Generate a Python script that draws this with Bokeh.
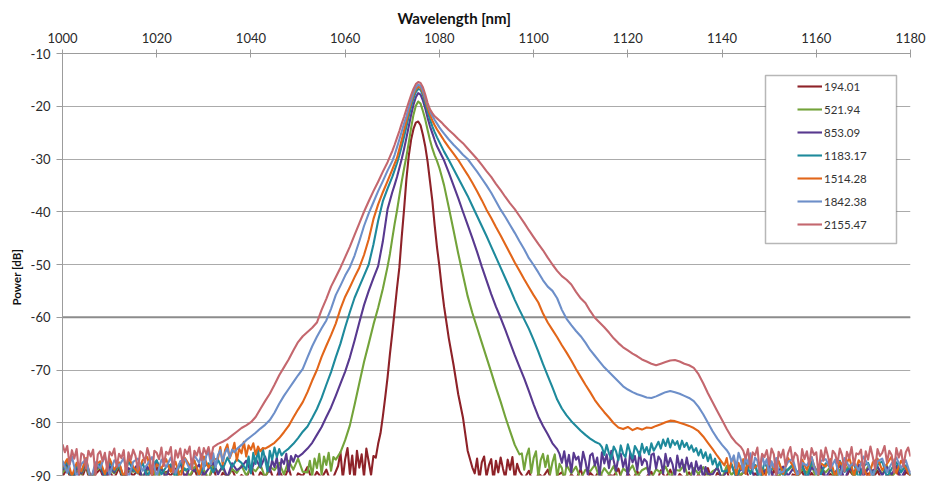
from bokeh.plotting import figure
from bokeh.models import Range1d, FixedTicker, Legend, LegendItem, BoxAnnotation, Span, Title
from bokeh.embed import file_html
from bokeh.resources import INLINE

# ---------------- axes / labels ----------------
X_TICKS = [1000, 1020, 1040, 1060, 1080, 1100, 1120, 1140, 1160, 1180]
X_TICK_LABELS = ["1000", "1020", "1040", "1060", "1080", "1100", "1120", "1140", "1160", "1180"]
Y_TICKS = [-90, -80, -70, -60, -50, -40, -30, -20, -10]
Y_TICK_LABELS = ["-90", "-80", "-70", "-60", "-50", "-40", "-30", "-20", "-10"]
X_TITLE = "Wavelength [nm]"
Y_TITLE = "Power [dB]"

SERIES_LABELS = ["194.01", "521.94", "853.09", "1183.17", "1514.28", "1842.38", "2155.47"]
SERIES_COLORS = ["#8E2228", "#73A33A", "#58398F", "#1E8A9C", "#E2661A", "#6D8FC9", "#C4676E"]

# ---------------- data (dB) ----------------
# *_coarse: noise floor every 1 nm (left list starts at 1000, right list ends at 1180)
# *_fine:   noise floor every 0.5 nm, just before / just after the shaped part
# *_shape:  (wavelength, dB) pairs of the emission band

# 194.01
red_left_coarse = [
    -90.2, -88.6, -91.5, -89.1, -90.8, -88.3, -91.9, -89.7, -88.8, -91.2,
    -89.4, -90.5, -88.5, -91.7, -89.0, -90.1, -88.9, -91.4, -89.6, -90.7,
    -88.4, -91.1, -89.3, -90.0, -88.7, -91.8, -89.8, -90.4, -88.6, -91.3,
    -89.2, -90.9, -88.3, -91.6, -89.5, -90.2, -88.8, -91.0, -89.9, -90.6,
    -88.2, -91.5, -89.4, -90.3, -88.7, -91.2, -89.1, -90.8, -88.5, -91.7,
    -89.6, -90.1, -88.4, -91.0, -89.3, -90.5, -88.9, -91.4]
red_left_fine = [
    -88.2, -85.6, -90.6, -86.9, -84.8, -89.7, -86.2, -91.0, -85.3, -88.5,
    -86.0, -90.3, -84.9, -87.4, -89.9, -86.3]
red_shape = [
    (1066.5, -86.6), (1067, -84.0), (1067.5, -82.0), (1068, -78.8), (1068.5, -75.2),
    (1069, -71.4), (1069.5, -67.0), (1070, -63.0), (1070.5, -58.8), (1071, -54.5),
    (1071.5, -50.6), (1072, -44.8), (1072.5, -39.6), (1073, -33.8), (1073.5, -29.4),
    (1074, -26.3), (1074.5, -24.3), (1075, -23.1), (1075.5, -22.9), (1076, -23.6),
    (1076.5, -25.4), (1077, -27.6), (1077.5, -30.5), (1078, -34.2), (1078.5, -37.9),
    (1079, -42.6), (1079.5, -46.8), (1080, -50.3), (1080.5, -54.4), (1081, -58.0),
    (1082, -64.0), (1083, -69.0), (1084, -74.6), (1085, -79.0), (1086, -85.3),
    (1087, -88.5)]
red_right_fine = [
    -89.6, -86.8, -90.8, -87.5, -86.4, -90.2, -88.1, -86.9, -91.0, -87.2,
    -89.4, -86.6, -88.7, -90.5, -87.0, -88.9, -86.5, -90.7, -87.8, -89.2]
red_right_coarse = [
    -90.6, -89.1, -91.8, -89.7, -90.3, -88.9, -91.5, -90.0, -89.4, -91.2,
    -89.8, -90.7, -88.8, -91.9, -89.5, -90.4, -89.0, -91.4, -89.9, -90.1,
    -88.7, -91.6, -89.6, -90.8, -89.2, -91.1, -90.2, -89.3, -91.7, -89.0,
    -90.5, -88.9, -91.3, -89.7, -90.6, -89.4, -91.0, -89.8, -90.9, -88.6,
    -91.5, -89.5, -90.3, -89.1, -91.8, -89.9, -90.0, -88.8, -91.2, -89.6,
    -90.7, -89.3, -91.4, -89.0, -90.4, -88.7, -91.9, -89.8, -90.1, -89.2,
    -91.6, -89.5, -90.8, -88.9, -91.0, -89.7, -90.5, -89.4, -91.3, -89.0,
    -90.2, -88.8, -91.7, -89.6, -90.6, -89.1, -91.1, -89.9, -90.3, -88.6,
    -91.5, -89.3, -90.0]

# 521.94
green_left_coarse = [
    -89.5, -88.2, -90.9, -88.7, -89.8, -88.0, -91.0, -89.1, -88.4, -90.4,
    -88.9, -89.6, -88.1, -90.7, -88.8, -89.3, -88.5, -90.2, -89.0, -88.3,
    -90.8, -88.6, -89.9, -88.2, -90.5, -89.2, -88.7, -90.1, -88.4, -89.7,
    -88.9, -90.6, -88.0, -89.4, -88.6, -90.3, -88.8, -89.5, -88.1, -90.0,
    -88.5, -89.2, -87.9, -90.4, -88.3, -89.0, -87.6, -89.8, -87.2, -88.9,
    -86.8, -89.3]
green_left_fine = [
    -89.4, -87.2, -90.1, -86.8, -88.6, -85.9, -89.8, -86.4, -88.0, -85.7,
    -89.1, -86.5]
green_shape = [
    (1058, -87.0), (1059, -85.6), (1060, -83.3), (1061, -80.5), (1062, -76.6),
    (1063, -72.5), (1064, -68.5), (1065, -65.0), (1066, -61.4), (1067, -58.2),
    (1068, -54.6), (1069, -50.4), (1069.5, -48.0), (1070, -45.1), (1070.5, -42.3),
    (1071, -39.8), (1071.5, -37.0), (1072, -34.3), (1072.5, -31.8), (1073, -29.5),
    (1073.5, -26.9), (1074, -24.1), (1074.5, -21.6), (1075, -19.9), (1075.5, -19.1),
    (1076, -19.5), (1076.5, -20.9), (1077, -22.5), (1077.5, -24.5), (1078, -26.4),
    (1078.5, -28.0), (1079, -29.3), (1079.5, -30.4), (1080, -31.7), (1080.5, -33.3),
    (1081, -35.0), (1082, -39.2), (1083, -43.5), (1084, -47.9), (1085, -52.0),
    (1086, -56.0), (1087, -59.2), (1088, -62.0), (1089, -64.8), (1090, -67.6),
    (1091, -70.4), (1092, -73.3), (1093, -76.0), (1094, -78.9), (1095, -81.6),
    (1096, -84.2), (1097, -86.0)]
green_right_fine = [
    -85.8, -88.9, -86.3, -84.9, -89.5, -86.7, -85.4, -90.2, -87.1, -85.9,
    -88.4, -86.2, -89.7, -87.5, -86.0, -90.4, -87.8, -88.6, -90.9, -88.0]
green_right_coarse = [
    -89.6, -88.3, -90.7, -88.9, -89.2, -88.0, -90.4, -88.6, -89.8, -88.2,
    -90.9, -88.7, -89.4, -88.1, -90.2, -89.0, -88.5, -90.6, -88.8, -89.5,
    -88.3, -90.3, -88.9, -89.1, -88.0, -90.8, -88.6, -89.7, -88.4, -90.1,
    -89.2, -88.7, -90.5, -88.2, -89.9, -88.8, -90.0, -88.5, -89.3, -88.1,
    -90.7, -88.9, -89.6, -88.3, -90.4, -88.6, -89.0, -88.2, -90.2, -88.8,
    -89.5, -88.0, -90.6, -88.7, -89.4, -88.4, -90.9, -88.9, -89.2, -88.1,
    -90.3, -88.6, -89.8, -88.3, -90.0, -88.5, -89.7, -88.2, -90.5, -88.8,
    -89.1, -88.4, -90.1]

# 853.09
purple_left_coarse = [
    -89.0, -87.7, -90.8, -88.4, -89.6, -87.5, -90.2, -88.9, -87.9, -91.0,
    -88.2, -89.4, -87.6, -90.5, -88.6, -89.1, -87.8, -90.7, -88.3, -89.9,
    -87.4, -88.8, -90.3, -88.0, -89.5, -87.6, -90.6, -88.5, -89.2, -87.9,
    -90.0, -88.7, -87.5, -89.8, -88.1, -90.4, -87.7, -89.0, -88.4, -87.2,
    -89.3, -86.8, -88.5, -86.4]
purple_left_fine = [
    -89.3, -87.1, -88.4, -86.6, -90.0, -86.9, -87.8, -85.9, -89.2, -86.3,
    -87.4, -86.1]
purple_shape = [
    (1050, -86.5), (1051, -85.8), (1052, -84.9), (1053, -83.8), (1054, -82.3),
    (1055, -80.8), (1056, -78.9), (1057, -77.1), (1058, -74.9), (1059, -72.6),
    (1060, -70.3), (1061, -67.6), (1062, -64.4), (1063, -61.0), (1064, -57.7),
    (1065, -55.0), (1066, -52.6), (1067, -50.3), (1068, -45.6), (1069, -39.5),
    (1070, -36.3), (1070.5, -34.9), (1071, -33.4), (1071.5, -31.7), (1072, -30.0),
    (1072.5, -28.1), (1073, -26.0), (1073.5, -23.8), (1074, -21.6), (1074.5, -19.7),
    (1075, -18.3), (1075.5, -17.5), (1076, -17.8), (1076.5, -18.9), (1077, -20.4),
    (1077.5, -22.2), (1078, -23.8), (1078.5, -25.1), (1079, -26.4), (1079.5, -27.6),
    (1080, -28.5), (1080.5, -29.4), (1081, -30.3), (1082, -32.6), (1083, -35.0),
    (1084, -37.4), (1085, -40.0), (1086, -42.5), (1087, -45.0), (1088, -47.6),
    (1089, -50.4), (1090, -53.0), (1091, -55.6), (1092, -58.0), (1093, -60.1),
    (1094, -62.4), (1095, -64.8), (1096, -67.2), (1097, -69.4), (1098, -71.6),
    (1099, -74.0), (1100, -76.5), (1101, -78.8), (1102, -80.6), (1103, -82.2),
    (1104, -83.9), (1105, -85.0)]
purple_right_fine = [
    -85.9, -87.6, -85.4, -88.3, -86.1, -89.4, -85.7, -87.0, -86.4, -88.9,
    -85.5, -87.3, -89.8, -86.2, -85.8, -88.1, -86.6, -90.1, -85.6, -87.7,
    -86.0, -88.6, -85.3, -87.2, -89.1, -86.5, -85.9, -88.4, -86.8, -90.3,
    -85.7, -87.5, -86.3, -89.0, -85.5, -88.0, -86.9, -87.4, -90.0, -86.1,
    -85.8, -88.7, -86.4, -87.1, -89.6, -85.9, -88.2, -86.7, -87.9, -90.4,
    -86.2, -88.5, -87.0, -89.3, -86.6, -88.8, -87.6, -90.2, -87.3, -89.0,
    -88.1, -90.6, -88.4, -89.7]
purple_right_coarse = [
    -89.8, -88.4, -90.7, -89.1, -88.0, -90.3, -88.7, -89.6, -87.9, -90.9,
    -88.6, -89.3, -88.2, -90.5, -89.0, -88.3, -90.1, -88.8, -89.7, -87.8,
    -90.6, -88.5, -89.2, -88.1, -90.4, -88.9, -89.5, -88.0, -90.8, -88.6,
    -89.4, -87.9, -90.2, -88.7, -89.1, -88.3, -90.0, -88.4, -89.8, -88.2,
    -90.5, -88.8, -89.3]

# 1183.17
teal_left_coarse = [
    -88.7, -87.4, -90.6, -88.1, -89.3, -87.2, -91.0, -88.5, -87.8, -90.0,
    -87.5, -89.1, -88.0, -90.8, -87.3, -88.9, -89.6, -87.6, -90.3, -88.2,
    -87.1, -89.8, -88.4, -87.9, -90.5, -87.4, -89.0, -88.6, -87.2, -90.1,
    -88.3, -87.7, -89.4, -87.0, -88.8, -86.6, -88.4, -86.9, -87.6]
teal_left_fine = [
    -88.9, -86.4, -89.6, -85.7, -87.8, -85.1, -88.3, -84.9, -86.9, -89.2,
    -85.3, -87.0, -84.7, -86.5, -85.0, -86.2]
teal_shape = [
    (1047, -85.6), (1048, -84.9), (1049, -84.0), (1050, -82.9), (1051, -81.7),
    (1052, -80.7), (1053, -79.1), (1054, -77.4), (1055, -75.3), (1056, -72.8),
    (1057, -70.4), (1058, -67.6), (1059, -65.0), (1060, -61.9), (1061, -59.0),
    (1062, -56.3), (1063, -54.2), (1064, -52.1), (1065, -50.0), (1066, -46.2),
    (1067, -41.7), (1068, -38.0), (1069, -35.6), (1070, -33.4), (1070.5, -32.1),
    (1071, -30.8), (1071.5, -29.3), (1072, -27.6), (1072.5, -25.8), (1073, -23.9),
    (1073.5, -21.9), (1074, -20.1), (1074.5, -18.5), (1075, -17.3), (1075.5, -16.7),
    (1076, -16.9), (1076.5, -17.9), (1077, -19.4), (1077.5, -21.0), (1078, -22.5),
    (1078.5, -23.8), (1079, -24.9), (1079.5, -25.9), (1080, -26.8), (1080.5, -27.7),
    (1081, -28.6), (1082, -30.2), (1083, -31.9), (1084, -33.6), (1085, -35.3),
    (1086, -37.0), (1087, -38.9), (1088, -40.8), (1089, -42.7), (1090, -44.6),
    (1091, -46.6), (1092, -48.6), (1093, -50.6), (1094, -52.6), (1095, -54.6),
    (1096, -56.7), (1097, -58.6), (1098, -60.4), (1099, -62.2), (1100, -64.3),
    (1101, -66.5), (1102, -68.9), (1103, -71.1), (1104, -73.3), (1105, -75.6),
    (1106, -77.3), (1107, -78.6), (1108, -79.7), (1109, -80.6), (1110, -81.5),
    (1111, -82.3), (1112, -83.0), (1113, -83.6), (1114, -84.0)]
teal_right_fine = [
    -84.6, -86.1, -84.2, -85.8, -86.9, -84.5, -85.4, -87.1, -84.3, -85.9,
    -86.5, -84.1, -85.6, -86.8, -84.4, -85.2, -86.3, -84.0, -85.7, -84.6,
    -86.0, -83.9, -85.3, -84.5,
    -83.6, -84.9, -83.2, -84.4, -83.0, -84.7, -83.3, -84.2, -83.5, -85.0,
    -83.4, -84.6, -83.8, -85.1,
    -84.3, -85.5, -84.8, -86.2, -85.1, -86.7, -85.6, -87.3, -86.0, -87.9,
    -86.8, -88.5, -87.4, -89.2]
teal_right_coarse = [
    -89.2, -87.8, -90.4, -88.3, -87.5, -89.7, -88.0, -90.9, -87.6, -89.1,
    -88.5, -87.3, -90.2, -88.8, -87.9, -89.5, -88.1, -90.6, -87.4, -88.9,
    -89.8, -87.7, -88.4, -90.1, -87.2, -89.3, -88.6, -87.8, -90.5, -88.2,
    -87.6, -89.9, -88.0, -87.3, -90.3, -88.7, -87.5, -89.4, -88.1, -90.0]

# 1514.28
orange_left_coarse = [
    -88.4, -86.9, -90.1, -87.6, -89.2, -86.7, -90.8, -88.0, -87.3, -89.7,
    -86.8, -88.9, -87.5, -90.4, -86.6, -88.3, -89.5, -87.1, -86.5, -90.0,
    -87.9, -88.6, -86.9, -89.3, -87.4, -90.7, -86.7, -88.1, -87.2, -89.8,
    -86.4, -88.5, -87.0]
orange_left_fine = [
    -86.8, -84.6, -87.9, -85.2, -84.1, -86.7, -85.5, -83.8, -87.2, -84.9,
    -85.8, -83.6, -86.4, -84.3, -85.1, -83.9, -86.0, -84.5, -85.4, -84.8]
orange_shape = [
    (1043, -84.9), (1044, -84.4), (1045, -83.8), (1046, -82.9), (1047, -81.8),
    (1048, -80.6), (1049, -79.0), (1050, -77.5), (1051, -76.1), (1052, -74.2),
    (1053, -72.0), (1054, -70.0), (1055, -67.5), (1056, -65.4), (1057, -63.4),
    (1058, -61.2), (1059, -58.4), (1060, -56.1), (1061, -54.3), (1062, -52.4),
    (1063, -50.6), (1064, -48.2), (1065, -45.2), (1066, -41.4), (1067, -38.6),
    (1068, -36.3), (1069, -34.2), (1070, -32.0), (1070.5, -30.9), (1071, -29.8),
    (1071.5, -28.1), (1072, -26.4), (1072.5, -24.6), (1073, -22.8), (1073.5, -21.0),
    (1074, -19.3), (1074.5, -17.8), (1075, -16.8), (1075.5, -16.3), (1076, -16.5),
    (1076.5, -17.4), (1077, -18.8), (1077.5, -20.3), (1078, -21.6), (1078.5, -22.7),
    (1079, -23.6), (1079.5, -24.4), (1080, -25.1), (1080.5, -25.8), (1081, -26.5),
    (1082, -27.8), (1083, -29.0), (1084, -30.2), (1085, -31.6), (1086, -33.0),
    (1087, -34.5), (1088, -36.1), (1089, -37.8), (1090, -39.6), (1091, -41.2),
    (1092, -42.9), (1093, -44.5), (1094, -46.2), (1095, -47.9), (1096, -49.6),
    (1097, -51.2), (1098, -52.8), (1099, -54.3), (1100, -55.8), (1101, -57.2),
    (1102, -59.3), (1103, -61.0), (1104, -62.4), (1105, -63.8), (1106, -65.3),
    (1107, -66.7), (1108, -68.2), (1109, -69.8), (1110, -71.3), (1111, -72.8),
    (1112, -74.2), (1113, -75.7), (1114, -76.9), (1115, -78.0), (1116, -79.0),
    (1117, -80.1), (1118, -80.9), (1119, -81.2), (1120, -80.8), (1121, -81.4),
    (1122, -81.0), (1123, -81.3), (1124, -80.9), (1125, -81.0), (1126, -80.6),
    (1127, -80.3), (1128, -79.9), (1129, -79.6), (1130, -79.7), (1131, -80.0),
    (1132, -80.3), (1133, -80.6), (1134, -81.0), (1135, -81.6), (1136, -82.6),
    (1137, -83.8), (1138, -85.0), (1139, -86.3), (1140, -87.5)]
orange_right_fine = [
    -88.1, -86.7, -89.4, -87.2, -86.5, -90.0, -87.6, -88.8, -86.9, -89.7,
    -87.4, -88.5]
orange_right_coarse = [
    -87.9, -86.6, -89.4, -87.2, -90.3, -86.9, -88.5, -87.6, -90.9, -86.8,
    -88.8, -87.3, -89.7, -86.7, -88.1, -90.5, -87.0, -88.9, -86.5, -89.5,
    -87.7, -88.3, -86.9, -90.2, -87.4, -88.7, -86.6, -89.9, -87.1, -88.4,
    -90.6, -87.5, -86.8, -89.0, -87.8, -86.4, -89.6, -87.2, -88.6, -90.1]

# 1842.38
blue_left_coarse = [
    -87.2, -89.5, -86.4, -90.3, -87.8, -86.9, -91.0, -87.5, -88.6, -86.3,
    -89.9, -87.1, -88.2, -86.7, -90.6, -87.4, -86.8, -89.1, -87.9, -86.5,
    -90.2, -87.0, -88.4, -86.6, -89.6, -87.3, -86.9, -88.8, -86.2]
blue_left_fine = [
    -87.6, -85.9, -88.8, -86.3, -85.4, -87.9, -85.8, -88.4, -86.1, -85.2,
    -87.3, -85.7, -84.9, -86.6, -85.1, -85.6]
blue_shape = [
    (1037, -85.0), (1038, -84.2), (1039, -83.3), (1040, -82.6), (1041, -81.9),
    (1042, -81.1), (1043, -80.4), (1044, -79.5), (1045, -78.1), (1046, -76.4),
    (1047, -74.9), (1048, -73.6), (1049, -72.3), (1050, -71.0), (1051, -69.8),
    (1052, -67.6), (1053, -65.5), (1054, -63.7), (1055, -62.1), (1056, -60.6),
    (1057, -58.4), (1058, -55.8), (1059, -54.0), (1060, -52.1), (1061, -50.5),
    (1062, -48.3), (1063, -45.6), (1064, -42.7), (1065, -40.3), (1066, -38.2),
    (1067, -36.1), (1068, -34.2), (1069, -32.2), (1070, -30.4), (1070.5, -29.2),
    (1071, -27.8), (1071.5, -26.3), (1072, -24.8), (1072.5, -23.3), (1073, -21.9),
    (1073.5, -20.3), (1074, -18.8), (1074.5, -17.4), (1075, -16.4), (1075.5, -15.9),
    (1076, -16.1), (1076.5, -17.0), (1077, -18.4), (1077.5, -19.7), (1078, -20.9),
    (1078.5, -21.8), (1079, -22.6), (1079.5, -23.3), (1080, -24.0), (1080.5, -24.6),
    (1081, -25.2), (1082, -26.3), (1083, -27.3), (1084, -28.2), (1085, -29.2),
    (1086, -30.0), (1087, -31.2), (1088, -32.4), (1089, -33.7), (1090, -35.0),
    (1091, -36.4), (1092, -38.0), (1093, -39.6), (1094, -41.0), (1095, -42.5),
    (1096, -44.0), (1097, -45.6), (1098, -47.1), (1099, -48.8), (1100, -50.1),
    (1101, -51.5), (1102, -53.0), (1103, -54.2), (1104, -55.0), (1105, -56.4),
    (1106, -58.6), (1107, -60.3), (1108, -61.5), (1109, -62.6), (1110, -63.6),
    (1111, -64.8), (1112, -66.2), (1113, -67.3), (1114, -68.4), (1115, -69.5),
    (1116, -70.4), (1117, -71.3), (1118, -72.2), (1119, -73.1), (1120, -73.7),
    (1121, -74.2), (1122, -74.6), (1123, -74.9), (1124, -75.2), (1125, -75.3),
    (1126, -75.0), (1127, -74.6), (1128, -74.2), (1129, -74.0), (1130, -74.2),
    (1131, -74.5), (1132, -74.9), (1133, -75.3), (1134, -75.9), (1135, -77.0),
    (1136, -78.4), (1137, -80.0), (1138, -81.6), (1139, -83.0), (1140, -84.2),
    (1141, -85.2)]
blue_right_fine = [
    -85.9, -87.4, -86.2, -88.6, -85.7, -87.0, -89.3, -86.4, -87.8, -85.8,
    -88.9, -86.6, -87.2, -89.8, -86.1, -88.0, -86.9, -90.1, -87.3, -88.4,
    -86.7, -89.5]
blue_right_coarse = [
    -86.0, -87.8, -86.4, -89.6, -86.9, -88.2, -86.3, -90.4, -87.1, -88.9,
    -86.6, -89.3, -87.4, -86.8, -90.0, -87.6, -88.1, -86.5, -89.8, -87.2,
    -86.9, -88.7, -87.0, -90.5, -86.7, -88.4, -87.5, -89.1, -86.4, -88.0,
    -90.2, -87.3, -86.8, -89.4, -87.7, -86.6, -88.6, -87.1, -89.9]

# 2155.47 (whole floor sampled every 0.5 nm)
pink_left_fine = [
    -84.1, -85.6, -84.4, -87.9, -85.2, -86.8, -85.0, -89.6, -85.8, -86.1,
    -88.7, -85.3, -86.4, -85.1, -90.0, -86.0, -85.4, -87.3, -85.7, -89.1,
    -85.5, -86.2, -84.9, -88.4, -85.9, -86.7, -85.2, -90.2, -85.6, -87.0,
    -85.1, -86.3, -88.9, -85.4, -85.8, -87.6, -84.8, -86.5, -89.8, -85.3,
    -85.7, -86.9, -84.7, -88.2, -85.5, -86.0, -84.6, -89.4, -85.2, -86.6,
    -84.9, -87.7, -85.1, -85.9, -84.5, -88.8, -85.3, -86.2, -84.7, -87.1,
    -84.8, -85.9, -84.6, -86.8]
pink_shape = [
    (1032, -84.6), (1033, -84.0), (1034, -83.6), (1035, -83.1), (1036, -82.4),
    (1037, -81.7), (1038, -81.0), (1039, -80.5), (1040, -79.9), (1041, -78.9),
    (1042, -77.4), (1043, -75.9), (1044, -74.5), (1045, -72.8), (1046, -71.0),
    (1047, -69.5), (1048, -68.0), (1049, -66.3), (1050, -64.7), (1051, -63.6),
    (1052, -62.8), (1053, -62.0), (1054, -61.0), (1055, -58.6), (1056, -56.5),
    (1057, -54.2), (1058, -52.4), (1059, -50.6), (1060, -48.6), (1061, -46.6),
    (1062, -44.4), (1063, -42.2), (1064, -40.0), (1065, -38.0), (1066, -36.1),
    (1067, -34.3), (1068, -32.4), (1069, -30.6), (1070, -28.5), (1070.5, -27.3),
    (1071, -26.0), (1071.5, -24.7), (1072, -23.3), (1072.5, -22.0), (1073, -20.6),
    (1073.5, -19.2), (1074, -17.9), (1074.5, -16.7), (1075, -15.8), (1075.5, -15.4),
    (1076, -15.6), (1076.5, -16.4), (1077, -17.8), (1077.5, -19.4), (1078, -20.6),
    (1078.5, -21.3), (1079, -21.9), (1079.5, -22.3), (1080, -22.7), (1080.5, -23.1),
    (1081, -23.6), (1082, -24.5), (1083, -25.3), (1084, -26.2), (1085, -27.0),
    (1086, -28.0), (1087, -29.0), (1088, -30.0), (1089, -31.1), (1090, -32.3),
    (1091, -33.4), (1092, -34.7), (1093, -35.9), (1094, -37.2), (1095, -38.4),
    (1096, -39.5), (1097, -40.8), (1098, -42.1), (1099, -43.5), (1100, -44.8),
    (1101, -46.1), (1102, -47.3), (1103, -48.7), (1104, -50.0), (1105, -51.2),
    (1106, -52.2), (1107, -52.9), (1108, -53.8), (1109, -55.2), (1110, -56.4),
    (1111, -57.3), (1112, -58.8), (1113, -60.1), (1114, -61.0), (1115, -61.9),
    (1116, -62.9), (1117, -64.0), (1118, -64.9), (1119, -65.7), (1120, -66.3),
    (1121, -66.9), (1122, -67.4), (1123, -68.0), (1124, -68.4), (1125, -68.8),
    (1126, -69.1), (1127, -68.8), (1128, -68.5), (1129, -68.2), (1130, -68.1),
    (1131, -68.4), (1132, -68.8), (1133, -69.1), (1134, -69.6), (1135, -70.8),
    (1136, -72.5), (1137, -74.4), (1138, -76.1), (1139, -77.8), (1140, -79.5),
    (1141, -81.2), (1142, -82.7), (1143, -83.8), (1144, -84.6)]
pink_right_fine = [
    -85.3, -86.8, -85.0, -88.5, -85.6, -86.2, -84.7, -89.3, -85.9, -86.5,
    -85.2, -87.9, -84.9, -86.0, -90.1, -85.5, -86.6, -85.1, -88.2, -85.8,
    -84.6, -87.4, -85.7, -86.3, -89.5, -85.0, -86.9, -85.4, -88.0, -84.8,
    -86.1, -85.6, -89.9, -85.2, -87.2, -84.7, -86.4, -88.6, -85.3, -85.9,
    -87.7, -84.9, -86.2, -89.2, -85.5, -86.7, -84.6, -88.1, -85.8, -86.0,
    -85.1, -89.7, -85.4, -87.0, -84.5, -86.5, -88.8, -85.0, -86.3, -85.7,
    -84.4, -87.5, -85.3, -86.1, -89.4, -84.8, -86.6, -85.2, -88.3, -85.6,
    -84.7, -86.4]

X_MIN, X_MAX = 1000, 1180
Y_MIN, Y_MAX = -90, -10
COARSE, FINE = 1.0, 0.5


def build(left_coarse, left_fine, shape, right_fine, right_coarse):
    x0, x1 = shape[0][0], shape[-1][0]
    lf = [(x0 - FINE * (len(left_fine) - i), v) for i, v in enumerate(left_fine)]
    rf = [(x1 + FINE * (i + 1), v) for i, v in enumerate(right_fine)]
    lf_start = lf[0][0] if lf else x0
    rf_end = rf[-1][0] if rf else x1
    n = len(right_coarse)
    lc = [(X_MIN + COARSE * i, v) for i, v in enumerate(left_coarse)]
    rc = [(X_MAX - COARSE * (n - 1 - i), v) for i, v in enumerate(right_coarse)]
    pts = ([p for p in lc if p[0] < lf_start] + lf + list(shape) + rf
           + [p for p in rc if p[0] > rf_end])
    return [p[0] for p in pts], [p[1] for p in pts]


series = [
    build(red_left_coarse, red_left_fine, red_shape, red_right_fine, red_right_coarse),
    build(green_left_coarse, green_left_fine, green_shape, green_right_fine, green_right_coarse),
    build(purple_left_coarse, purple_left_fine, purple_shape, purple_right_fine, purple_right_coarse),
    build(teal_left_coarse, teal_left_fine, teal_shape, teal_right_fine, teal_right_coarse),
    build(orange_left_coarse, orange_left_fine, orange_shape, orange_right_fine, orange_right_coarse),
    build(blue_left_coarse, blue_left_fine, blue_shape, blue_right_fine, blue_right_coarse),
    build([], pink_left_fine, pink_shape, pink_right_fine, []),
]

FONT = "Lato"
AXIS_GREY = "#9c9c9c"

p = figure(width=927, height=483,
           x_range=Range1d(X_MIN, X_MAX), y_range=Range1d(Y_MIN, Y_MAX),
           x_axis_location="above", y_axis_location="left",
           output_backend="svg", toolbar_location=None,
           min_border_left=62, min_border_right=17, min_border_top=53, min_border_bottom=8)
p.outline_line_color = None
p.background_fill_color = "white"
p.border_fill_color = "white"

# x title as plot title (above the top axis, shifted left like the original)
p.title.text = X_TITLE
p.title.align = "left"
p.title.offset = 335
p.title.standoff = 5
p.title.text_font = FONT
p.title.text_font_size = "15px"
p.title.text_font_style = "bold"
p.title.text_color = "#111111"

# grid
p.xgrid.visible = False
p.ygrid.ticker = FixedTicker(ticks=Y_TICKS)
p.ygrid.grid_line_color = "#ababab"
p.ygrid.grid_line_width = 1.2
mid_line = Span(location=-60, dimension="width", line_color="#8c8c8c", line_width=2)
mid_line.level = "underlay"
p.add_layout(mid_line)

# x axis (top)
xa = p.xaxis[0]
xa.ticker = FixedTicker(ticks=X_TICKS)
xa.major_label_overrides = {t: s for t, s in zip(X_TICKS, X_TICK_LABELS)}
xa.major_label_text_font = FONT
xa.major_label_text_font_size = "13px"
xa.major_label_text_color = "#2a2a2a"
xa.major_label_standoff = 7
xa.major_tick_in = 4
xa.major_tick_out = 4
xa.minor_tick_line_color = None
xa.axis_line_color = AXIS_GREY
xa.major_tick_line_color = AXIS_GREY

# y axis (left)
ya = p.yaxis[0]
ya.ticker = FixedTicker(ticks=Y_TICKS)
ya.major_label_overrides = {t: s for t, s in zip(Y_TICKS, Y_TICK_LABELS)}
ya.major_label_text_font = FONT
ya.major_label_text_font_size = "13px"
ya.major_label_text_color = "#2a2a2a"
ya.major_label_standoff = 6
ya.major_tick_in = 0
ya.major_tick_out = 6
ya.minor_tick_line_color = None
ya.axis_line_color = AXIS_GREY
ya.major_tick_line_color = AXIS_GREY

# y title, on the left, placed a little below the middle like the original
y_title = Title(text=Y_TITLE, align="left", offset=170, standoff=10,
                text_font=FONT, text_font_size="11.5px", text_font_style="bold",
                text_color="#111111")
p.add_layout(y_title, "left")

# curves
items = []
for (xs, ys), lab, col in zip(series, SERIES_LABELS, SERIES_COLORS):
    r = p.line(xs, ys, line_color=col, line_width=2.1, line_join="round")
    items.append(LegendItem(label=lab, renderers=[r]))

# legend frame (screen units, relative to plot frame)
box = BoxAnnotation(left=703, right=834, top=400, bottom=232,
                    left_units="screen", right_units="screen",
                    top_units="screen", bottom_units="screen",
                    fill_color="white", fill_alpha=1.0,
                    line_color="#111111", line_width=1.5)
p.add_layout(box)

legend = Legend(items=items, location=(735, 241), padding=0, margin=0,
                spacing=3, glyph_width=25, glyph_height=20, label_height=20,
                label_standoff=2, label_text_font=FONT, label_text_font_size="11.5px",
                label_text_color="#333333", background_fill_alpha=0,
                border_line_color=None)
p.add_layout(legend)

open("out.html", "w").write(file_html(p, INLINE))
